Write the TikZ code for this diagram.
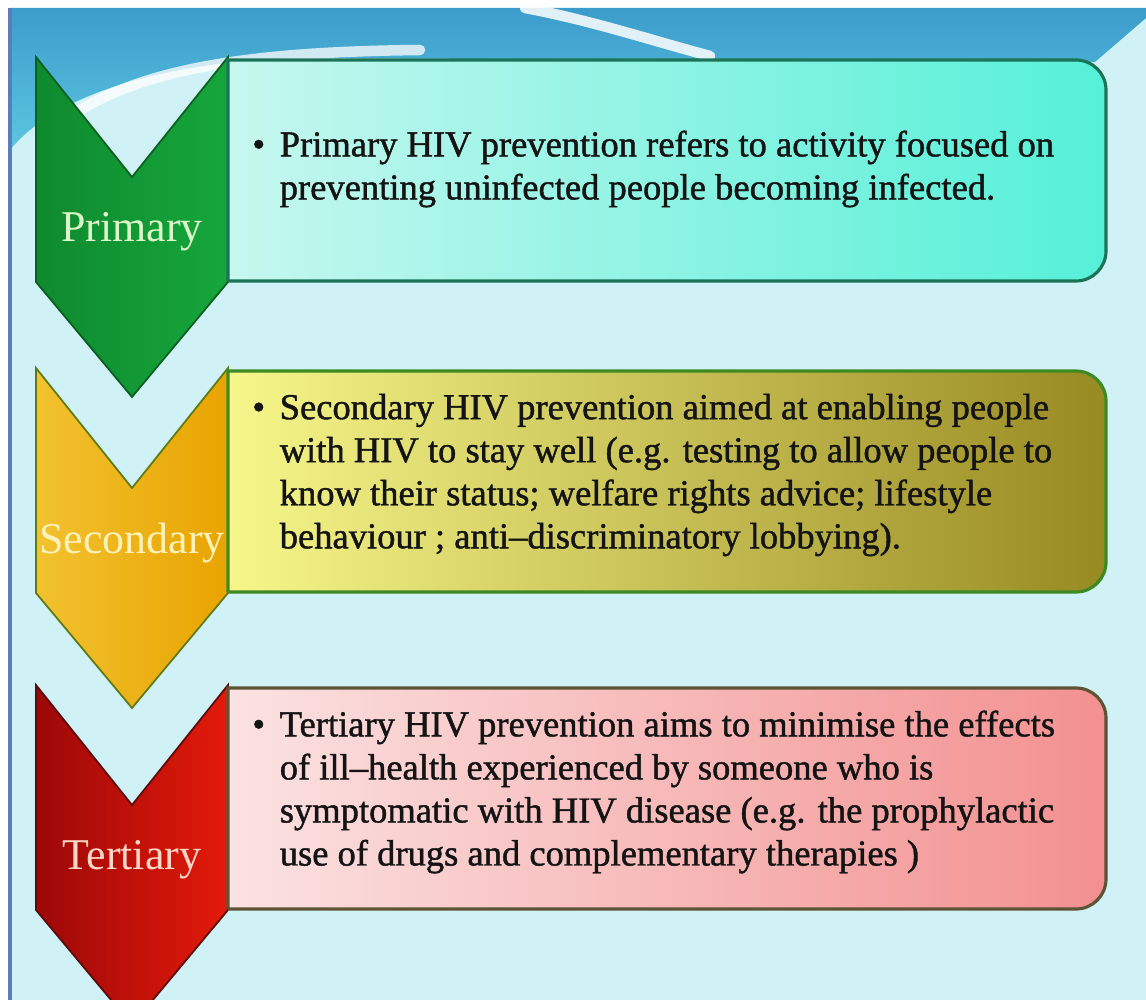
\documentclass[tikz,border=0pt]{standalone}
\usepackage{fontspec}
\setmainfont{Liberation Serif}
\newfontfamily\boxfont[Ligatures=TeX,FakeBold=1.2]{Liberation Serif}
\usetikzlibrary{positioning}

\definecolor{bgcyan}{HTML}{D0F2F6}
\definecolor{bandtop}{HTML}{3C9CCB}
\definecolor{bandbot}{HTML}{5CC6E0}
\definecolor{slideblue}{HTML}{5B7DB9}
% chevron colours (CL, CR, CD) and box colours (BL, BM, BR, BD)
\definecolor{priCL}{HTML}{0E8A2E}\definecolor{priCR}{HTML}{16A63C}\definecolor{priCD}{HTML}{0A5E1E}
\definecolor{priLab}{HTML}{DDF8C8}
\definecolor{priBL}{HTML}{C6F7EF}\definecolor{priBM}{HTML}{8EF4E2}\definecolor{priBR}{HTML}{55F0D8}\definecolor{priBD}{HTML}{1C7458}
\definecolor{secCL}{HTML}{F2C230}\definecolor{secCR}{HTML}{E8A400}\definecolor{secCD}{HTML}{5E7A12}
\definecolor{secLab}{HTML}{FFF2B8}
\definecolor{secBL}{HTML}{F6F68A}\definecolor{secBM}{HTML}{D6CE3A}\definecolor{secBR}{HTML}{988A22}\definecolor{secBD}{HTML}{3E8A22}
\definecolor{terCL}{HTML}{9C0808}\definecolor{terCR}{HTML}{E41A0A}\definecolor{terCD}{HTML}{5A0C0C}
\definecolor{terLab}{HTML}{FFD6C6}
\definecolor{terBL}{HTML}{FBE2E2}\definecolor{terBM}{HTML}{F7B8B8}\definecolor{terBR}{HTML}{F39090}\definecolor{terBD}{HTML}{5C5434}

\newcommand{\blt}{\textbullet\hspace{0.4em}}
\newcommand{\ind}{\hphantom{\textbullet\hspace{0.4em}}}

\begin{document}
\begin{tikzpicture}[x=0.02cm,y=-0.02cm,
        chev/.style={line width=1pt,line join=miter},
        stagebox/.style={line width=1.8pt},
        lab/.style={font=\fontsize{25}{25}\selectfont},
        txt/.style={anchor=west,align=left,inner sep=0pt,text=black!92,
            font=\boxfont\fontsize{20.8}{24.5}\selectfont}]

  \useasboundingbox (0,0) rectangle (1146,1000);
  \clip (0,0) rectangle (1146,1000);

  % slide background
  \fill[white] (0,0) rectangle (1146,1000);
  \fill[bgcyan] (10,8) rectangle (1146,1000);
  \shade[top color=bandtop,bottom color=bandbot]
    (10,8) -- (1146,8) -- (1146,18) -- (1095,62) -- (300,58)
    .. controls (150,62) and (50,100) .. (10,150) -- cycle;
  \draw[white,opacity=.75,line width=6pt,line cap=round]
    (40,140) .. controls (110,75) and (220,52) .. (420,50);
  \draw[white,opacity=.85,line width=6pt,line cap=round]
    (525,8) .. controls (590,20) and (650,40) .. (710,56);
  \fill[slideblue] (8,8) rectangle (12,1000);

  \foreach \t/\nm/\lbl in {57/pri/Primary, 368/sec/Secondary, 685/ter/Tertiary}{
    % chevron
    \shade[chev,left color=\nm CL,right color=\nm CR]
      (36,\t) -- (132,\t+120) -- (228,\t) -- (228,\t+225)
      -- (132,\t+340) -- (36,\t+225) -- cycle;
    \draw[chev,draw=\nm CD]
      (36,\t) -- (132,\t+120) -- (228,\t) -- (228,\t+225)
      -- (132,\t+340) -- (36,\t+225) -- cycle;
    % box
    \shade[left color=\nm BL,middle color=\nm BM,right color=\nm BR]
      (228,\t+225) -- (228,\t+3) [rounded corners=0.6cm] -- (1106,\t+3)
      -- (1106,\t+224) [sharp corners] -- (228,\t+224) -- cycle;
    \draw[stagebox,draw=\nm BD]
      (228,\t+224) -- (228,\t+3) [rounded corners=0.6cm] -- (1106,\t+3)
      -- (1106,\t+224) [sharp corners] -- (228,\t+224);
    % label
    \begin{scope}
      \clip (36,\t) -- (132,\t+120) -- (228,\t) -- (228,\t+225)
        -- (132,\t+340) -- (36,\t+225) -- cycle;
      \node[lab,text=\nm Lab] (lab_\nm) at (132,\t+175) {\lbl};
    \end{scope}
  }

  \node[txt] (txt_pri) at (252,169)
    {\blt Primary HIV prevention refers to activity focused on\\
     \ind preventing uninfected people becoming infected.};
  \node[txt] (txt_sec) at (252,475)
    {\blt Secondary HIV prevention aimed at enabling people\\
     \ind with HIV to stay well (e.g. testing to allow people to\\
     \ind know their status; welfare rights advice; lifestyle\\
     \ind behaviour ; anti--discriminatory lobbying).};
  \node[txt] (txt_ter) at (252,792)
    {\blt Tertiary HIV prevention aims to minimise the effects\\
     \ind of ill--health experienced by someone who is\\
     \ind symptomatic with HIV disease (e.g. the prophylactic\\
     \ind use of drugs and complementary therapies )};

\end{tikzpicture}
\end{document}
